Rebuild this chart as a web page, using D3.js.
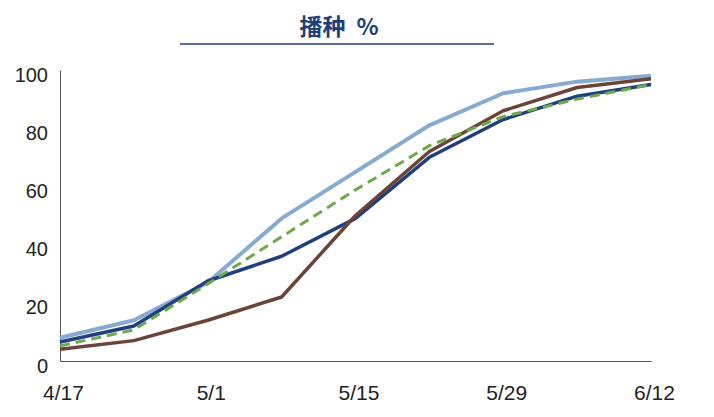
<!DOCTYPE html>
<html><head><meta charset="utf-8">
<script src="https://cdn.jsdelivr.net/npm/d3@7"></script>
<style>body{margin:0;background:#fff}svg{display:block}</style>
</head><body>
<svg id="c" width="714" height="417"></svg>
<script>
const categories = ["4/17","4/24","5/1","5/8","5/15","5/22","5/29","6/5","6/12"];
const tickLabels = ["4/17","5/1","5/15","5/29","6/12"];
const yTicks = [0,20,40,60,80,100];
const lightBlue = [8,14,27,49,65,81,92,96,98];
const darkBlue  = [6.5,12,27.5,36,49,70,83,91,95];
const green     = [5.2,10.7,26.5,42.7,58.8,74,84,90,95];
const brown     = [4,7,14,22,50,72,86,94,97];
const titleMain = "播种";
const titleUnit = "%";

const svg = d3.select("#c");
const x = d3.scalePoint().domain(categories).range([60,651]);
const y = d3.scaleLinear().domain([0,100]).range([361,70]);

const t = svg.append("text").attr("x",339).attr("y",35).attr("text-anchor","middle")
  .attr("font-family","'Noto Sans CJK SC', sans-serif").attr("font-weight","bold")
  .attr("font-size",23).attr("fill","#1f3f78");
t.append("tspan").text(titleMain);
t.append("tspan").attr("dx",11).text(titleUnit);
svg.append("line").attr("x1",180).attr("x2",494).attr("y1",44).attr("y2",44)
  .attr("stroke","#1f3f78").attr("stroke-width",1.3);

const yAxis = svg.append("g").attr("transform","translate(60,0)")
  .call(d3.axisLeft(y).tickValues(yTicks).tickSize(0).tickPadding(12));
yAxis.select(".domain").attr("stroke","#555");
yAxis.selectAll("text").attr("font-family","'Liberation Sans', Arial, sans-serif")
  .attr("font-size",20).attr("fill","#222").attr("dy","0.55em");

const xAxis = svg.append("g").attr("transform","translate(0,361)")
  .call(d3.axisBottom(x).tickValues(tickLabels).tickSize(0).tickPadding(24));
xAxis.select(".domain").attr("stroke","#555");
xAxis.selectAll("text").attr("font-family","'Liberation Sans', Arial, sans-serif")
  .attr("font-size",21).attr("fill","#222").attr("dx",3);

const line = d3.line().x((d,i)=>x(categories[i])).y(d=>y(d));
const series = [
  {v:lightBlue,c:"#87abcf",w:4},
  {v:darkBlue,c:"#213f7b",w:3.5},
  {v:brown,c:"#6a4436",w:3.5},
  {v:green,c:"#6ea94e",w:3,dash:"10,6"}
];
series.forEach(s=>{
  svg.append("path").datum(s.v).attr("d",line).attr("fill","none")
    .attr("stroke",s.c).attr("stroke-width",s.w).attr("stroke-linejoin","round")
    .attr("stroke-dasharray",s.dash||null);
});
</script>
</body></html>
